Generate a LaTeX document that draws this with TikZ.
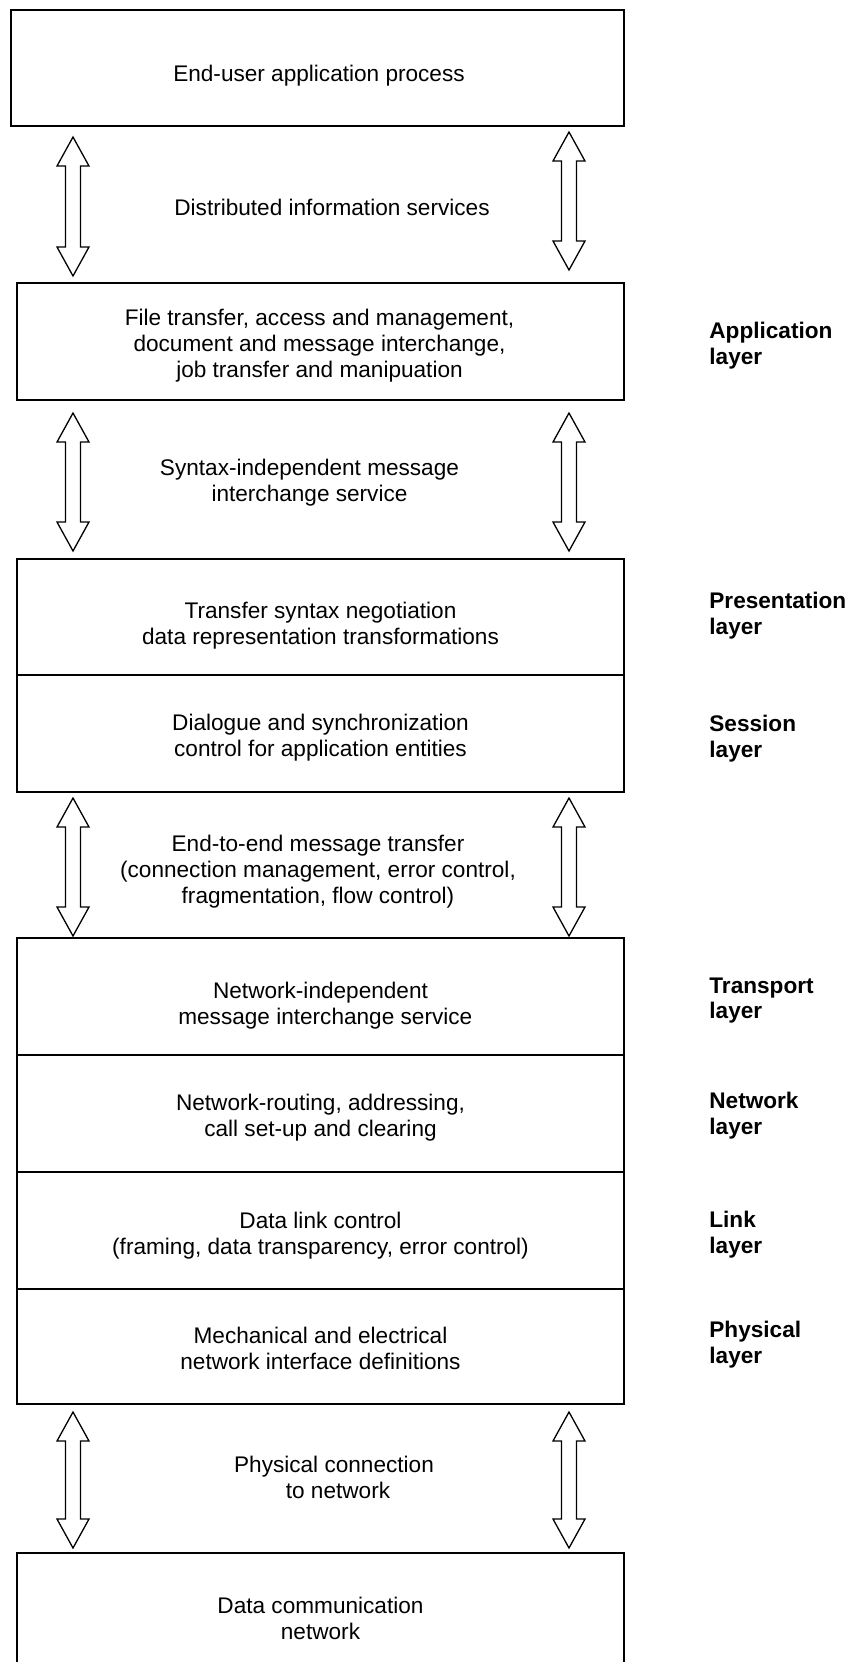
\documentclass[tikz,border=0pt]{standalone}
\usepackage{fontspec}
\setmainfont{Liberation Sans}
\usetikzlibrary{calc}
\tikzset{
  layerbox/.style={draw, line width=0.8pt, minimum width=303.5pt, minimum height=58.5pt, inner sep=0pt},
  boxtext/.style={align=center, inner sep=0pt, font=\fontsize{11.3}{13}\selectfont},
  gaplabel/.style={align=center, inner sep=0pt, font=\fontsize{11.3}{13}\selectfont},
  layerlabel/.style={anchor=west, align=left, inner sep=0pt, font=\bfseries\fontsize{11.3}{12.8}\selectfont},
  blockarrow/.style={draw, line width=0.65pt, fill=white, line join=miter}
}
\newcommand\blockarrow[2]{%
  \draw[blockarrow] (#1) -- ($(#1)+(16,29)$) -- ($(#1)+(7.5,29)$) -- ($(#2)+(7.5,-29)$)
    -- ($(#2)+(16,-29)$) -- (#2) -- ($(#2)+(-16,-29)$) -- ($(#2)+(-7.5,-29)$)
    -- ($(#1)+(-7.5,29)$) -- ($(#1)+(-16,29)$) -- cycle;}
\begin{document}
\begin{tikzpicture}[x=0.5pt,y=-0.5pt]
\useasboundingbox (0,0) rectangle (851,1662);

% boxes
\node[layerbox, minimum width=306.5pt, minimum height=58pt] (enduser) at (317.5,68) {};
\node[layerbox] (app) at (320.5,341.5) {};
\node[layerbox, minimum height=58pt] (pres) at (320.5,617) {};
\node[layerbox] (sess) at (320.5,733.5) {};
\node[layerbox] (trans) at (320.5,996.5) {};
\node[layerbox] (net) at (320.5,1113.5) {};
\node[layerbox] (link) at (320.5,1230.5) {};
\node[layerbox, minimum height=57.5pt] (phys) at (320.5,1346.5) {};
\node[layerbox] (datanet) at (320.5,1611.5) {};

% box texts
\node[boxtext] (t-enduser) at ($(enduser)+(1.5,7.5)$) {End-user application process};
\node[boxtext] (t-app) at ($(app)+(-1,4)$) {File transfer, access and management,\\document and message interchange,\\job transfer and manipuation};
\node[boxtext] (t-pres) at ($(pres)+(0,9)$) {Transfer syntax negotiation\\data representation transformations};
\node[boxtext] (t-sess) at ($(sess)+(0,4)$) {Dialogue and synchronization\\control for application entities};
\node[boxtext] (t-trans) at ($(trans)+(0,9)$) {Network-independent\\\hspace*{4.8pt}message interchange service};
\node[boxtext] (t-net) at ($(net)+(0,4)$) {Network-routing, addressing,\\call set-up and clearing};
\node[boxtext] (t-link) at ($(link)+(0,5)$) {Data link control\\(framing, data transparency, error control)};
\node[boxtext] (t-phys) at ($(phys)+(0,1.5)$) {Mechanical and electrical\\network interface definitions};
\node[boxtext] (t-datanet) at ($(datanet)+(0,7)$) {Data communication\\network};

% gap labels
\node[gaplabel] (g1) at (332,207) {Distributed information services};
\node[gaplabel] (g2) at (309.5,483) {Syntax-independent message\\interchange service};
\node[gaplabel] (g3) at (318,872) {End-to-end message transfer\\(connection management, error control,\\fragmentation, flow control)};
\node[gaplabel] (g4) at (334,1477) {Physical connection\\\hspace*{4pt}to network};

% layer labels
\node[layerlabel] (lapp) at (709,345.5) {Application\\layer};
\node[layerlabel] (lpres) at (709,615.5) {Presentation\\layer};
\node[layerlabel] (lsess) at (709,738.5) {Session\\layer};
\node[layerlabel] (ltrans) at (709,1000.5) {Transport\\layer};
\node[layerlabel] (lnet) at (709,1115.5) {Network\\layer};
\node[layerlabel] (llink) at (709,1234.5) {Link\\layer};
\node[layerlabel] (lphys) at (709,1344.5) {Physical\\layer};

% arrow end points
\coordinate (a1lt) at (73,137);  \coordinate (a1lb) at (73,276);
\coordinate (a1rt) at (569,132); \coordinate (a1rb) at (569,270);
\coordinate (a2lt) at (73,413);  \coordinate (a2lb) at (73,551);
\coordinate (a2rt) at (569,413); \coordinate (a2rb) at (569,551);
\coordinate (a3lt) at (73,798);  \coordinate (a3lb) at (73,936);
\coordinate (a3rt) at (569,798); \coordinate (a3rb) at (569,936);
\coordinate (a4lt) at (73,1412); \coordinate (a4lb) at (73,1548);
\coordinate (a4rt) at (569,1412);\coordinate (a4rb) at (569,1548);

\blockarrow{a1lt}{a1lb}
\blockarrow{a1rt}{a1rb}
\blockarrow{a2lt}{a2lb}
\blockarrow{a2rt}{a2rb}
\blockarrow{a3lt}{a3lb}
\blockarrow{a3rt}{a3rb}
\blockarrow{a4lt}{a4lb}
\blockarrow{a4rt}{a4rb}
\end{tikzpicture}
\end{document}
